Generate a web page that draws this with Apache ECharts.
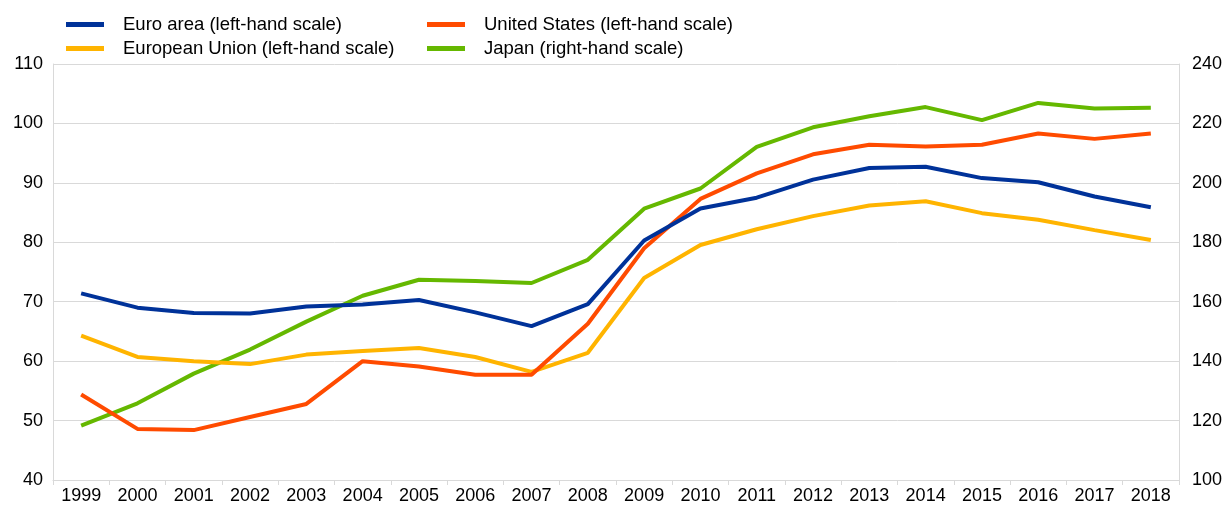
<!DOCTYPE html>
<html><head><meta charset="utf-8">
<script src="https://cdn.jsdelivr.net/npm/echarts@6/dist/echarts.min.js"></script>
<style>html,body{margin:0;padding:0;background:#fff}#c{width:1225px;height:505px}</style>
</head><body><div id="c"></div>
<script>
var years = ['1999','2000','2001','2002','2003','2004','2005','2006','2007','2008','2009','2010','2011','2012','2013','2014','2015','2016','2017','2018'];
var euroArea = [71.4,69.0,68.1,68.0,69.2,69.55,70.3,68.2,65.9,69.6,80.3,85.7,87.5,90.55,92.5,92.7,90.8,90.1,87.7,85.9];
var europeanUnion = [64.3,60.7,60.0,59.5,61.1,61.7,62.2,60.7,58.2,61.4,74.0,79.55,82.2,84.4,86.2,86.9,84.9,83.8,82.05,80.4];
var unitedStates = [54.4,48.6,48.4,50.6,52.8,60.0,59.1,57.7,57.7,66.3,79.0,87.3,91.6,94.8,96.4,96.1,96.4,98.3,97.4,98.3];
var japan = [118.3,125.8,135.8,143.9,153.3,162.0,167.4,167.0,166.3,174.1,191.3,198.1,212.1,218.7,222.4,225.5,221.1,226.9,225.0,225.3];
var names = ['Euro area (left-hand scale)','European Union (left-hand scale)','United States (left-hand scale)','Japan (right-hand scale)'];
var colors = ['#003299','#FFB400','#FF4B00','#65B800'];

var chart = echarts.init(document.getElementById('c'));
var font = 'Liberation Sans, Arial, sans-serif';
function legendCfg(left, data){
  return {left:left, top:10, orient:'vertical', itemWidth:38, itemHeight:5, itemGap:5, icon:'rect',
    data:data, selectedMode:false,
    textStyle:{fontFamily:font, fontSize:18.5, lineHeight:18, color:'#000', padding:[0,0,0,14]}};
}
var seriesData = [euroArea, europeanUnion, unitedStates, japan];
chart.setOption({
  animation:false,
  color: colors,
  legend:[legendCfg(61,[names[0],names[1]]), legendCfg(422,[names[2],names[3]])],
  grid:{left:53, right:46, top:64, bottom:22, containLabel:false},
  xAxis:{type:'category', data:years, boundaryGap:true,
    axisLine:{show:true, lineStyle:{color:'#d9d9d9', width:1}},
    axisTick:{show:true, alignWithLabel:false, length:5, lineStyle:{color:'#d9d9d9'}},
    axisLabel:{fontFamily:font, fontSize:18, color:'#000', margin:7, interval:0}},
  yAxis:[
    {type:'value', min:40, max:110, interval:10, position:'left',
     axisLine:{show:true, lineStyle:{color:'#d9d9d9'}}, axisTick:{show:false},
     splitLine:{show:true, lineStyle:{color:'#d9d9d9', width:1}},
     axisLabel:{fontFamily:font, fontSize:18, color:'#000', margin:10}},
    {type:'value', min:100, max:240, interval:20, position:'right',
     axisLine:{show:true, lineStyle:{color:'#d9d9d9'}}, axisTick:{show:false},
     splitLine:{show:false},
     axisLabel:{fontFamily:font, fontSize:18, color:'#000', margin:13}}
  ],
  series: seriesData.map(function(d,i){
    return {name:names[i], type:'line', data:d, yAxisIndex: i===3?1:0,
      symbol:'none', lineStyle:{width:4, color:colors[i]}, itemStyle:{color:colors[i]}, z: i===3?1:(i===0?4:3)};
  })
});
</script></body></html>
